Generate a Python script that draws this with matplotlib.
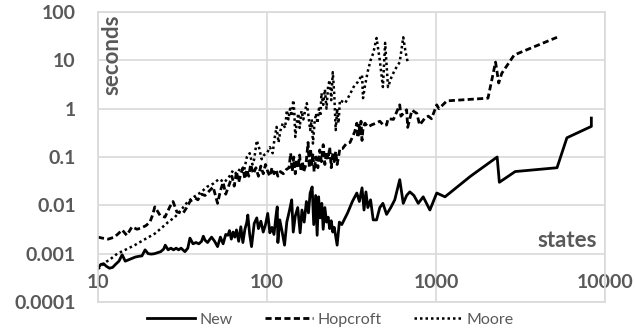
import matplotlib
matplotlib.use("Agg")
import matplotlib.pyplot as plt
from matplotlib.ticker import FixedLocator, NullLocator

# Timings (seconds) against number of states
new_states = [10, 10.4, 10.8, 11.2, 11.7, 12.2, 12.7, 13.3, 13.9, 14.5,
              15.2, 15.9, 16.6, 17.4, 18.2, 19, 19.8, 20.7, 21.6, 22.5,
              23.5, 24.5, 25, 26, 27, 28, 29, 30, 31, 32.7,
              34, 35, 36.5, 38, 39.5, 41, 42, 43, 44.5, 46,
              47, 49, 51, 53, 55, 57, 58.7, 60, 61.5, 63,
              64.5, 66, 68, 70, 72, 74, 76, 77, 79, 81,
              84, 87, 89, 92, 95, 98, 101, 104, 107, 110,
              113, 115, 116, 119, 123, 127, 131, 136, 140, 143,
              147, 152, 157, 161, 166, 171, 176, 180, 185, 189,
              194, 198, 202, 206, 211, 215, 220, 225, 230, 235,
              240, 245, 250, 260, 268, 277, 300, 320, 340, 352,
              365, 375, 385, 395, 410, 425, 445, 465, 485, 510,
              540, 570, 610, 640, 670, 700, 740, 785, 840, 920,
              1010, 1130, 1600, 2300, 2370, 2940, 5200, 5950, 8300, 8300]
new_secs = [0.0005, 0.0006, 0.00062, 0.00055, 0.0005, 0.00052, 0.0006, 0.0007, 0.00095, 0.0007,
            0.00075, 0.0008, 0.00085, 0.00088, 0.0009, 0.0012, 0.001, 0.00098, 0.001, 0.00105,
            0.0011, 0.00125, 0.0015, 0.0012, 0.0013, 0.0012, 0.0013, 0.0012, 0.0013, 0.0011,
            0.0013, 0.0021, 0.0016, 0.0017, 0.0016, 0.0018, 0.0023, 0.0019, 0.0017, 0.002,
            0.0022, 0.0018, 0.0014, 0.0022, 0.0016, 0.0025, 0.0024, 0.003, 0.002, 0.0028,
            0.0022, 0.0031, 0.0018, 0.0036, 0.0017, 0.0032, 0.0045, 0.0063, 0.0025, 0.0014,
            0.0042, 0.0055, 0.0033, 0.0047, 0.0028, 0.004, 0.0068, 0.0027, 0.0035, 0.0025,
            0.006, 0.0093, 0.0017, 0.005, 0.0028, 0.0015, 0.0045, 0.008, 0.013, 0.0028,
            0.006, 0.009, 0.0027, 0.008, 0.0045, 0.012, 0.007, 0.018, 0.024, 0.004,
            0.016, 0.0024, 0.015, 0.0055, 0.011, 0.0032, 0.009, 0.0045, 0.0057, 0.0033,
            0.0048, 0.0028, 0.0035, 0.0015, 0.0045, 0.004, 0.007, 0.012, 0.018, 0.012,
            0.023, 0.008, 0.019, 0.009, 0.013, 0.005, 0.005, 0.009, 0.011, 0.0065,
            0.009, 0.013, 0.034, 0.011, 0.016, 0.019, 0.016, 0.011, 0.015, 0.008,
            0.018, 0.015, 0.04, 0.1, 0.03, 0.05, 0.06, 0.25, 0.43, 0.64]

hop_states = [10, 10.6, 11.5, 12.5, 13.2, 13.9, 14.8, 15.9, 17, 18,
              19.2, 20.3, 21, 21.7, 23.3, 24.9, 26.6, 27.8, 29.3, 31.8,
              33.5, 35, 37.5, 39, 41, 43, 45, 48, 51, 53,
              55, 57, 60, 62, 64, 66, 68, 70, 72, 74,
              76, 78, 80, 83, 86, 89, 92, 95, 98, 101,
              104, 107, 110, 113, 116, 120, 125, 130, 135, 138,
              141, 144, 147, 150, 153, 156, 159, 162, 165, 170,
              175, 178, 181, 184, 187, 190, 195, 200, 205, 210,
              215, 220, 225, 230, 235, 240, 245, 250, 255, 260,
              265, 270, 280, 295, 310, 330, 340, 345, 350, 355,
              360, 365, 370, 380, 395, 415, 440, 465, 490, 510,
              520, 560, 610, 620, 670, 680, 720, 770, 800, 860,
              900, 940, 1010, 1040, 1160, 2030, 2250, 2350, 2450, 2900,
              5200]
hop_secs = [0.0022, 0.0021, 0.002, 0.0022, 0.0026, 0.0031, 0.0024, 0.0036, 0.0032, 0.0034,
            0.0038, 0.0045, 0.0062, 0.0093, 0.0062, 0.0057, 0.0093, 0.012, 0.0073, 0.0068,
            0.009, 0.012, 0.0143, 0.013, 0.017, 0.016, 0.019, 0.024, 0.011, 0.02,
            0.03, 0.017, 0.028, 0.04, 0.025, 0.05, 0.03, 0.045, 0.06, 0.035,
            0.055, 0.04, 0.07, 0.045, 0.06, 0.04, 0.065, 0.045, 0.07, 0.05,
            0.04, 0.06, 0.045, 0.055, 0.04, 0.05, 0.045, 0.055, 0.06, 0.12,
            0.05, 0.1, 0.045, 0.09, 0.06, 0.11, 0.05, 0.08, 0.05, 0.07,
            0.2, 0.06, 0.15, 0.07, 0.12, 0.05, 0.1, 0.06, 0.14, 0.08,
            0.18, 0.07, 0.13, 0.09, 0.16, 0.06, 0.12, 0.08, 0.13, 0.07,
            0.1, 0.15, 0.15, 0.19, 0.2, 0.33, 0.5, 0.25, 0.45, 0.3,
            0.55, 0.22, 0.4, 0.5, 0.42, 0.46, 0.5, 0.55, 0.45, 0.46,
            0.62, 0.6, 1.2, 0.7, 0.95, 0.41, 0.93, 0.8, 0.46, 0.64,
            0.7, 0.62, 1.2, 1.0, 1.45, 1.65, 9.2, 3.4, 5.4, 12.9,
            30]

moore_states = [10, 11, 12, 13, 14.5, 16.5, 19, 21.7, 24, 26,
                28.5, 31, 34, 37, 41, 44, 48, 52, 56, 60,
                63, 66, 70, 73, 76, 79, 82, 84, 87, 90,
                93, 96, 100, 104, 108, 111, 114, 117, 120, 124,
                128, 131, 134, 137, 140, 143, 145, 147, 150, 153,
                156, 160, 164, 168, 172, 176, 180, 184, 187, 191,
                195, 199, 203, 207, 210, 215, 220, 225, 230, 235,
                240, 245, 250, 255, 260, 265, 270, 290, 310, 325,
                345, 365, 370, 380, 395, 410, 425, 445, 465, 485,
                500, 520, 545, 570, 610, 640, 660, 680]
moore_secs = [0.00048, 0.00065, 0.0008, 0.001, 0.0012, 0.0015, 0.002, 0.0026, 0.0035, 0.0045,
              0.0057, 0.008, 0.012, 0.015, 0.019, 0.024, 0.028, 0.035, 0.03, 0.04,
              0.053, 0.045, 0.06, 0.05, 0.1, 0.12, 0.07, 0.09, 0.22, 0.15,
              0.09, 0.11, 0.12, 0.16, 0.12, 0.25, 0.42, 0.2, 0.35, 0.5,
              0.4, 0.93, 0.6, 1.0, 0.7, 1.5, 0.9, 0.26, 0.5, 0.8,
              0.4, 0.9, 0.6, 0.9, 1.3, 0.7, 0.36, 0.6, 0.19, 0.5,
              0.8, 0.5, 1.0, 0.7, 2.1, 1.2, 2.5, 1.0, 3.0, 3.9,
              1.5, 5.7, 2.0, 0.36, 1.0, 0.5, 1.5, 1.3, 2.0, 2.8,
              3.6, 5.0, 1.65, 3.0, 6.0, 10, 14, 29, 10, 2.8,
              23, 2.8, 4.5, 6.3, 9.2, 30, 15, 9.2]

y_ticks = [0.0001, 0.001, 0.01, 0.1, 1, 10, 100]
y_labels = ["0.0001", "0.001", "0.01", "0.1", "1", "10", "100"]
x_ticks = [10, 100, 1000, 10000]
x_labels = ["10", "100", "1000", "10000"]

plt.rcParams["font.family"] = ["Lato", "DejaVu Sans"]
grey = "#595959"

fig = plt.figure(figsize=(6.35, 3.31), dpi=100)
ax = fig.add_axes([0.1543, 0.0876, 0.7985, 0.8761])

ax.plot(new_states, new_secs, color="black", lw=2.0, ls="-", label="New")
ax.plot(hop_states, hop_secs, color="black", lw=2.0, ls=(0, (2.2, 1.2)), label="Hopcroft")
ax.plot(moore_states, moore_secs, color="black", lw=1.8, ls=(0, (1, 1.2)), label="Moore")

ax.set_xscale("log")
ax.set_yscale("log")
ax.set_xlim(10, 10000)
ax.set_ylim(0.0001, 100)
ax.xaxis.set_major_locator(FixedLocator(x_ticks))
ax.yaxis.set_major_locator(FixedLocator(y_ticks))
ax.xaxis.set_minor_locator(NullLocator())
ax.yaxis.set_minor_locator(NullLocator())
ax.set_xticklabels(x_labels)
ax.set_yticklabels(y_labels)
ax.tick_params(axis="both", length=0, labelsize=14, labelcolor=grey)
ax.tick_params(axis="x", pad=-20)
ax.tick_params(axis="y", pad=16)
for lab in ax.get_xticklabels() + ax.get_yticklabels():
    lab.set_fontweight("bold")

ax.grid(True, color="#d9d9d9", lw=1.2)
ax.set_axisbelow(True)
for sp in ax.spines.values():
    sp.set_color("#d9d9d9")
    sp.set_linewidth(1.2)

ax.text(0.007, 0.99, "seconds", transform=ax.transAxes, rotation=90, ha="left",
        va="top", fontsize=16, fontweight="bold", color=grey)
ax.text(0.985, 0.175, "states", transform=ax.transAxes, ha="right", va="bottom",
        fontsize=16, fontweight="bold", color=grey)

fig.legend(loc="center", bbox_to_anchor=(0.52, 0.035), ncol=3, frameon=False,
           fontsize=11.5, labelcolor=grey, handlelength=3.0, handletextpad=0.3,
           columnspacing=2.0)

fig.savefig("out.png", dpi=100)
